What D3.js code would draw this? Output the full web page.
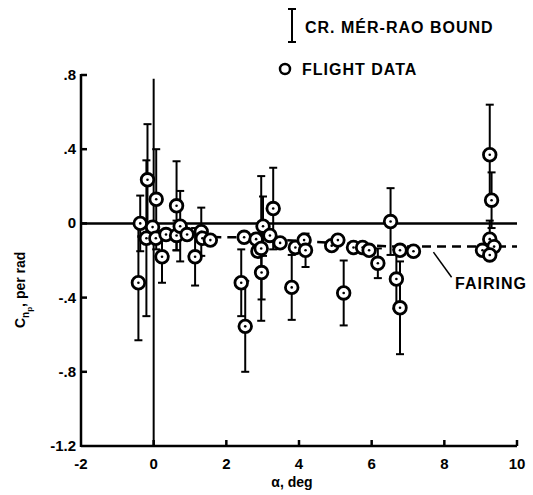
<!DOCTYPE html>
<html>
<head>
<meta charset="utf-8">
<script src="https://cdn.jsdelivr.net/npm/d3@7"></script>
<style>
  body { margin: 0; background: #fff; }
  svg text { font-family: "Liberation Sans", Arial, sans-serif; font-weight: bold; fill: #000; }
</style>
</head>
<body>
<svg id="chart" width="533" height="495"></svg>
<script>
// flight data: angle of attack (deg), Cnp (per rad), Cramer-Rao bound (+/-), null = no bar drawn
const alpha = [-0.37, -0.42, -0.17, -0.20, -0.03, 0.07, 0.06, 0.23, 0.34, 0.63, 0.63, 0.73, 0.92, 1.14, 1.31, 1.34, 1.56,
  2.41, 2.52, 2.49, 2.82, 2.87, 2.96, 3.01, 2.97, 3.29, 3.20, 3.48, 3.80, 3.90, 4.14, 4.18,
  4.90, 5.07, 5.23, 5.50, 5.75, 5.93, 6.17, 6.52, 6.68, 6.78, 6.78, 7.15,
  9.25, 9.30, 9.25, 9.37, 9.05, 9.25];
const cnp = [0.00, -0.32, 0.235, -0.08, -0.02, 0.13, -0.08, -0.18, -0.06, 0.095, -0.065, -0.015, -0.06, -0.18, -0.045, -0.08, -0.09,
  -0.32, -0.555, -0.075, -0.085, -0.15, -0.135, -0.015, -0.265, 0.08, -0.065, -0.105, -0.345, -0.13, -0.09, -0.145,
  -0.12, -0.09, -0.375, -0.13, -0.13, -0.145, -0.215, 0.01, -0.30, -0.455, -0.145, -0.15,
  0.37, 0.125, -0.085, -0.125, -0.145, -0.17];
const bound = [0.15, 0.31, 0.30, 0.42, null, 0.27, null, 0.14, null, 0.24, 0.08, 0.19, null, 0.155, 0.13, null, null,
  0.18, 0.245, null, null, null, 0.39, 0.16, 0.145, 0.22, null, null, 0.175, null, null, 0.09,
  null, null, 0.175, null, null, null, 0.08, 0.18, 0.16, 0.25, null, null,
  0.27, 0.15, 0.10, null, null, null];

// faired curve
const fairAlpha = [-0.45, 2.3, 4.5, 6.5, 10];
const fairCnp = [-0.07, -0.075, -0.10, -0.125, -0.125];

// axis ticks
const xTicks = [-2, 0, 2, 4, 6, 8, 10];
const yTicks = [0.8, 0.4, 0, -0.4, -0.8, -1.2];
const yTickLabels = ['.8', '.4', '0', '-.4', '-.8', '-1.2'];

const svg = d3.select('#chart');
const x = d3.scaleLinear().domain([-2, 10]).range([81, 517]);
const y = d3.scaleLinear().domain([-1.2, 0.8]).range([446, 75]);

const points = alpha.map((a, i) => ({ a, c: cnp[i], b: bound[i] }));

// axes
const axes = svg.append('g').attr('stroke', '#000').attr('stroke-width', 2.5).attr('fill', 'none');
axes.append('line').attr('x1', x(-2)).attr('x2', x(-2)).attr('y1', y(0.8) - 1).attr('y2', y(-1.2) + 1);
axes.append('line').attr('x1', x(-2)).attr('x2', x(10)).attr('y1', y(-1.2)).attr('y2', y(-1.2));
axes.selectAll('.yt').data(yTicks.slice(0, 5)).enter().append('line')
  .attr('x1', x(-2)).attr('x2', x(-2) + 6).attr('y1', (d) => y(d)).attr('y2', (d) => y(d));
axes.selectAll('.xt').data(xTicks.slice(1)).enter().append('line')
  .attr('x1', (d) => x(d)).attr('x2', (d) => x(d)).attr('y1', y(-1.2)).attr('y2', y(-1.2) - 6);

svg.append('g').selectAll('text').data(yTicks).enter().append('text')
  .attr('x', x(-2) - 5).attr('y', (d) => y(d) + 5)
  .attr('text-anchor', 'end').attr('font-size', 15)
  .text((d, i) => yTickLabels[i]);
svg.append('g').selectAll('text').data(xTicks).enter().append('text')
  .attr('x', (d) => x(d)).attr('y', y(-1.2) + 23)
  .attr('text-anchor', 'middle').attr('font-size', 15)
  .text((d) => d);

// reference lines at zero
svg.append('line').attr('stroke', '#000').attr('stroke-width', 2.5)
  .attr('x1', x(-2)).attr('x2', x(10)).attr('y1', y(0)).attr('y2', y(0));
svg.append('line').attr('stroke', '#000').attr('stroke-width', 2)
  .attr('x1', x(0)).attr('x2', x(0)).attr('y1', y(0.78)).attr('y2', y(-1.2));

// fairing
const fair = fairAlpha.map((a, i) => [x(a), y(fairCnp[i])]);
svg.append('path').attr('d', d3.line()(fair))
  .attr('fill', 'none').attr('stroke', '#000').attr('stroke-width', 2.5)
  .attr('stroke-dasharray', '9,6');

// error bars
const bars = svg.append('g').attr('stroke', '#000').attr('stroke-width', 2);
points.filter((p) => p.b != null).forEach((p) => {
  const cx = x(p.a);
  bars.append('line').attr('x1', cx).attr('x2', cx).attr('y1', y(p.c + p.b)).attr('y2', y(p.c - p.b));
  bars.append('line').attr('x1', cx - 4).attr('x2', cx + 4).attr('y1', y(p.c + p.b)).attr('y2', y(p.c + p.b));
  bars.append('line').attr('x1', cx - 4).attr('x2', cx + 4).attr('y1', y(p.c - p.b)).attr('y2', y(p.c - p.b));
});

// flight data symbols
const sym = svg.append('g').selectAll('g').data(points).enter().append('g')
  .attr('transform', (d) => `translate(${x(d.a)},${y(d.c)})`);
sym.append('circle').attr('r', 6.3).attr('fill', '#fff').attr('stroke', '#000').attr('stroke-width', 2.8);
sym.append('circle').attr('r', 1.3).attr('fill', '#000');

// fairing label with leader
svg.append('line').attr('stroke', '#000').attr('stroke-width', 1.5)
  .attr('x1', x(7.7)).attr('y1', y(-0.155)).attr('x2', x(8.2)).attr('y2', y(-0.29));
svg.append('text').attr('x', 455).attr('y', 289).attr('font-size', 16).attr('letter-spacing', 1)
  .text('FAIRING');

// axis titles
svg.append('text').attr('x', 292).attr('y', 487).attr('text-anchor', 'middle').attr('font-size', 14)
  .text('α, deg');
const yl = svg.append('text').attr('transform', 'translate(25,328) rotate(-90)').attr('font-size', 14);
yl.append('tspan').text('C');
yl.append('tspan').attr('dy', 4).attr('font-size', 10).text('n');
yl.append('tspan').attr('dy', 3).attr('font-size', 8).text('p');
yl.append('tspan').attr('dy', -7).text(', per rad');

// legend
const lg = svg.append('g').attr('stroke', '#000').attr('stroke-width', 2);
lg.append('line').attr('x1', 292).attr('x2', 292).attr('y1', 9).attr('y2', 42);
lg.append('line').attr('x1', 288).attr('x2', 296).attr('y1', 9).attr('y2', 9);
lg.append('line').attr('x1', 288).attr('x2', 296).attr('y1', 42).attr('y2', 42);
svg.append('text').attr('x', 305).attr('y', 33).attr('font-size', 16).attr('letter-spacing', 1)
  .text('CR. MÉR-RAO BOUND');
svg.append('circle').attr('cx', 285).attr('cy', 69).attr('r', 5)
  .attr('fill', '#fff').attr('stroke', '#000').attr('stroke-width', 2.5);
svg.append('text').attr('x', 302).attr('y', 75).attr('font-size', 16).attr('letter-spacing', 1)
  .text('FLIGHT DATA');
</script>
</body>
</html>
